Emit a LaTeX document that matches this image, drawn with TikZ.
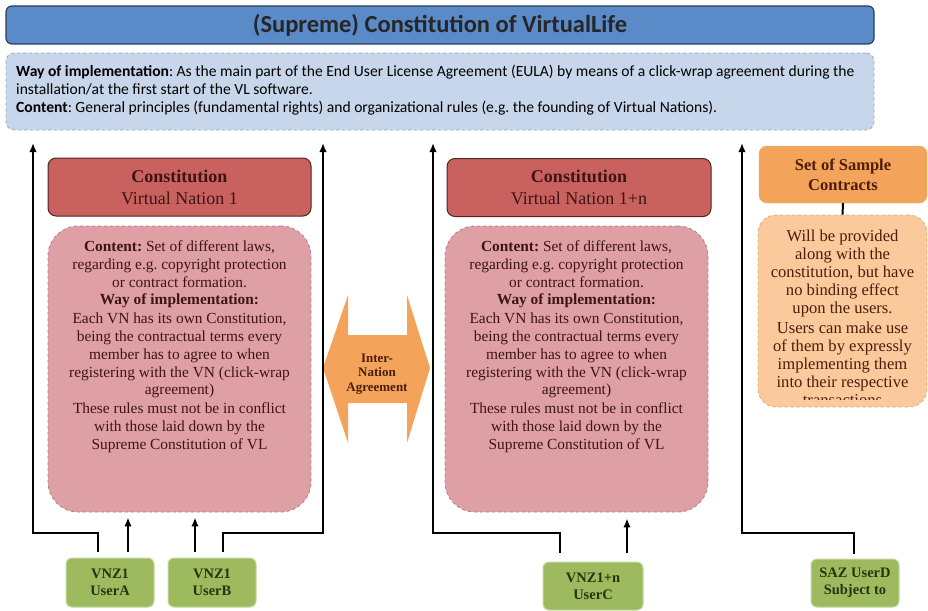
\documentclass[tikz,border=0pt]{standalone}
\usepackage{fontspec}
\setmainfont{Liberation Serif}
\newfontfamily\sansf{Carlito}
\usetikzlibrary{arrows.meta,calc}
\definecolor{titlefill}{HTML}{5A8AC8}
\definecolor{titledraw}{HTML}{2C3E5C}
\definecolor{bluefill}{HTML}{C7D6EA}
\definecolor{bluedraw}{HTML}{98A8BE}
\definecolor{redfill}{HTML}{C9625F}
\definecolor{reddraw}{HTML}{4E2626}
\definecolor{pinkfill}{HTML}{DEA0A4}
\definecolor{pinkdraw}{HTML}{B08088}
\definecolor{redtext}{HTML}{3E1414}
\definecolor{orangefill}{HTML}{F4A45A}
\definecolor{lightorange}{HTML}{FACA9C}
\definecolor{orangedraw}{HTML}{E2A876}
\definecolor{greenfill}{HTML}{9DBB5E}
\definecolor{greendraw}{HTML}{C4D8A0}
\definecolor{greentext}{HTML}{26340E}
\definecolor{browntext}{HTML}{4A1E08}
\begin{document}
\frenchspacing
\begin{tikzpicture}[x=1pt,y=-1pt,
  titlebox/.style={draw=titledraw,line width=1.2pt,fill=titlefill,rounded corners=6pt,minimum width=868pt,minimum height=38pt,inner sep=0pt,font=\sansf\bfseries\fontsize{24.5}{28}\selectfont,text=black!85},
  supbox/.style={draw=bluedraw,dashed,line width=0.8pt,fill=bluefill,rounded corners=8pt,minimum width=868pt,minimum height=77pt,inner sep=0pt},
  suptext/.style={align=left,anchor=west,inner sep=0pt,font=\sansf\fontsize{15.6}{18}\selectfont},
  hdrbox/.style={draw=reddraw,line width=1pt,fill=redfill,rounded corners=8pt,minimum width=263pt,minimum height=58pt,inner sep=0pt,align=center,text=redtext,font=\fontsize{18}{22}\selectfont},
  bodybox/.style={draw=pinkdraw,dashed,line width=0.8pt,fill=pinkfill,rounded corners=30pt,minimum width=263pt,minimum height=286pt,inner sep=0pt},
  bodytext/.style={align=center,text=redtext,inner sep=0pt,anchor=north,font=\fontsize{15.4}{17.7}\selectfont},
  userbox/.style={draw=greendraw,line width=1pt,fill=greenfill,rounded corners=6pt,minimum width=88pt,minimum height=49pt,inner sep=0pt,align=center,text=greentext,font=\bfseries\fontsize{14.5}{17}\selectfont},
  conn/.style={line width=2pt,black},
  arr/.style={conn,-{Latex[length=9pt,width=7.5pt]}}
]
\useasboundingbox (0,0) rectangle (928,610);
\fill[white] (0,0) rectangle (928,610);

% Supreme constitution
\node[titlebox] (title) at (440,25) {(Supreme) Constitution of VirtualLife};
\node[supbox] (sup) at (440,91.5) {};
\node[suptext] (suptxt) at (16,90) {%
  \textbf{Way of implementation}: As the main part of the End User License Agreement (EULA) by means of a click-wrap agreement during the\\
  installation/at the first start of the VL software.\\
  \textbf{Content}: General principles (fundamental rights) and organizational rules (e.g. the founding of Virtual Nations).};

% Virtual Nation 1
\node[hdrbox] (vn1hdr) at (179.5,187) {\textbf{Constitution}\\Virtual Nation 1};
\node[bodybox] (vn1body) at (179.5,369) {};
\node[bodytext] (vn1text) at ([yshift=-15pt]vn1body.north) {%
  \textbf{Content:} Set of different laws,\\
  regarding e.g. copyright protection\\
  or contract formation.\\
  \textbf{Way of implementation:}\\[1.5pt]
  Each VN has its own Constitution,\\
  being the contractual terms every\\
  member has to agree to when\\
  registering with the VN (click-wrap\\
  agreement)\\[1.5pt]
  These rules must not be in conflict\\
  with those laid down by the\\
  Supreme Constitution of VL};

% Virtual Nation 1+n
\node[hdrbox,minimum width=264pt] (vn2hdr) at (579,187.5) {\textbf{Constitution}\\Virtual Nation 1+n};
\node[bodybox] (vn2body) at (576.5,369) {};
\node[bodytext] (vn2text) at ([yshift=-15pt]vn2body.north) {%
  \textbf{Content:} Set of different laws,\\
  regarding e.g. copyright protection\\
  or contract formation.\\
  \textbf{Way of implementation:}\\[1.5pt]
  Each VN has its own Constitution,\\
  being the contractual terms every\\
  member has to agree to when\\
  registering with the VN (click-wrap\\
  agreement)\\[1.5pt]
  These rules must not be in conflict\\
  with those laid down by the\\
  Supreme Constitution of VL};

% Inter-Nation agreement double arrow
\fill[orangefill] (323,368) -- (348,295) -- (348,335) -- (407,335) -- (407,295) -- (430,368)
  -- (407,443) -- (407,403) -- (348,403) -- (348,443) -- cycle;
\node[align=center,text=browntext,font=\bfseries\fontsize{13}{14.5}\selectfont,inner sep=0pt] (inter) at (377,374) {Inter-\\Nation\\Agreement};

% Sample contracts
\node[draw=orangefill,fill=orangefill,rounded corners=8pt,minimum width=168pt,minimum height=57pt,inner sep=0pt,align=center,text=browntext,font=\bfseries\fontsize{16.5}{20}\selectfont] (samp) at (843,174.5) {Set of Sample\\Contracts};
\node[draw=orangedraw,dashed,line width=0.8pt,fill=lightorange,rounded corners=18pt,minimum width=169pt,minimum height=192pt,inner sep=0pt] (sampbody) at (842.5,311) {};
\begin{scope}
\clip (758,215) rectangle (927,399);
\node[bodytext,text=browntext,font=\fontsize{16.6}{18}\selectfont] (samptext) at ([yshift=-15pt]sampbody.north) {%
  Will be provided\\
  along with the\\
  constitution, but have\\
  no binding effect\\
  upon the users.\\[2pt]
  Users can make use\\
  of them by expressly\\
  implementing them\\
  into their respective\\
  transactions};
\end{scope}
\draw[conn] (samp.south) -- (sampbody.north);

% Users
\node[userbox] (uA) at (110,582.5) {VNZ1\\UserA};
\node[userbox] (uB) at (212,582.5) {VNZ1\\UserB};
\node[userbox,minimum width=100pt,minimum height=48pt] (uC) at (593,586) {VNZ1+n\\UserC};
\node[userbox,minimum height=48pt] (uD) at (855,583) {SAZ UserD\\Subject to};

% connector corner / end coordinates
\coordinate (cA) at (33,533);
\coordinate (tA) at (33,143);
\coordinate (cB) at (323,533);
\coordinate (tB) at (323,143);
\coordinate (cC) at (433,533);
\coordinate (tC) at (433,143);
\coordinate (cD) at (742,533);
\coordinate (tD) at (742,143);

\draw[arr,shorten <=6pt] ([xshift=-12pt]uA.north) |- (cA) -- (tA);
\draw[arr,shorten <=6pt,shorten >=5pt] ([xshift=18pt]uA.north) -- ([xshift=18pt]uA.north |- vn1body.south);
\draw[arr,shorten <=6pt,shorten >=5pt] ([xshift=-17pt]uB.north) -- ([xshift=-17pt]uB.north |- vn1body.south);
\draw[arr,shorten <=6pt] ([xshift=11pt]uB.north) |- (cB) -- (tB);

\draw[arr,shorten <=9pt] ([xshift=-33pt]uC.north) |- (cC) -- (tC);
\draw[arr,shorten <=9pt,shorten >=6pt] ([xshift=34pt]uC.north) -- ([xshift=34pt]uC.north |- vn2body.south);

\draw[arr,shorten <=5pt] ([xshift=-1pt]uD.north) |- (cD) -- (tD);
\end{tikzpicture}
\end{document}
